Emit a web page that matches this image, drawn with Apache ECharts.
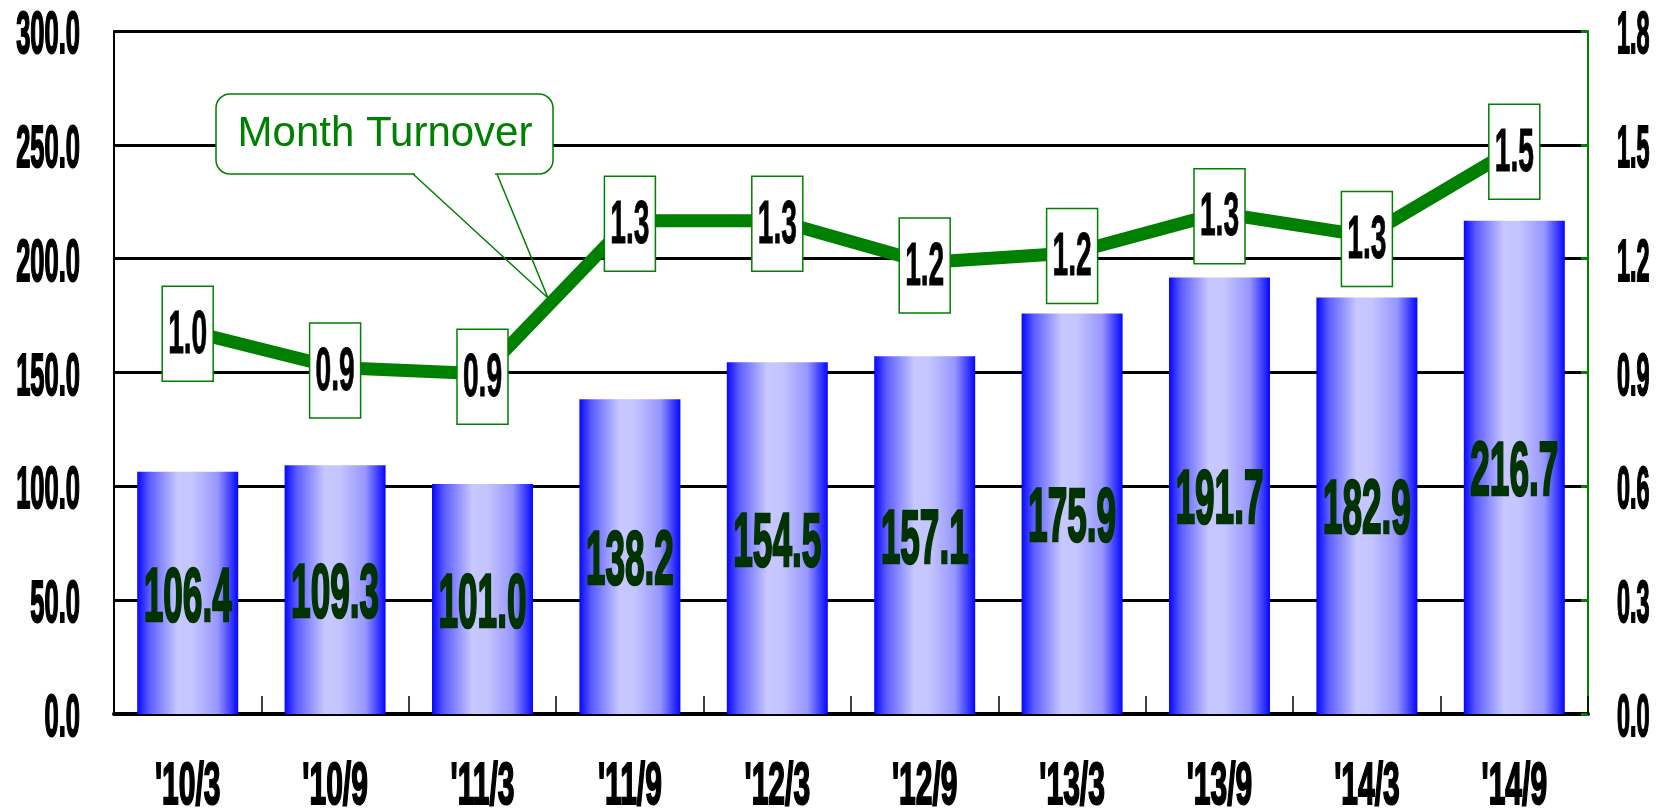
<!DOCTYPE html>
<html>
<head>
<meta charset="utf-8">
<title>Balance and Month Turnover</title>
<script src="https://cdn.jsdelivr.net/npm/echarts@6/dist/echarts.min.js"></script>
<style>
  html, body { margin: 0; padding: 0; background: #ffffff; }
  #chart { width: 1657px; height: 812px; }
</style>
</head>
<body>
<div id="chart"></div>
<script>
// Half-year periods
const categories = ["'10/3", "'10/9", "'11/3", "'11/9", "'12/3", "'12/9", "'13/3", "'13/9", "'14/3", "'14/9"];
// Balance (left axis)
const balance = [106.4, 109.3, 101.0, 138.2, 154.5, 157.1, 175.9, 191.7, 182.9, 216.7];
// Month turnover (right axis)
const turnover = [1.01, 0.913, 0.897, 1.30, 1.30, 1.19, 1.215, 1.32, 1.26, 1.49];
// Axis ticks
const leftTicks = [0, 50, 100, 150, 200, 250, 300];
const rightTicks = [0, 0.3, 0.6, 0.9, 1.2, 1.5, 1.8];

const BASE_FONT = "'Liberation Sans', Arial, Helvetica, sans-serif";
const GREEN = '#008000';

const chart = echarts.init(document.getElementById('chart'));

const barGradient = new echarts.graphic.LinearGradient(0, 0, 1, 0, [
  { offset: 0.00, color: '#0606ff' },
  { offset: 0.12, color: '#5c5cff' },
  { offset: 0.40, color: '#c8c8ff' },
  { offset: 0.55, color: '#c4c4ff' },
  { offset: 0.80, color: '#9696ff' },
  { offset: 1.00, color: '#0606ff' }
]);

// Tall, narrow heavy text: a bold face stretched vertically
function tallText(str, x, y, size, sx, sy, color, align, weight) {
  return {
    type: 'text',
    x: x,
    y: y,
    scaleX: sx,
    scaleY: sy,
    silent: true,
    style: {
      text: str,
      fill: color,
      stroke: color,
      lineWidth: weight,
      fontFamily: BASE_FONT,
      fontWeight: 'bold',
      fontSize: size,
      align: align || 'center',
      verticalAlign: 'middle'
    }
  };
}

// Value labels inside the bars
function renderBarLabel(params, api) {
  const idx = api.value(0);
  const v = api.value(1);
  const mid = api.coord([idx, v / 2]);
  return tallText(v.toFixed(1), mid[0], mid[1] + 6.5, 40, 0.88, 1.92, '#003300', 'center', 1.4);
}

// Boxed labels centred on the turnover points
function renderLineLabel(params, api) {
  const idx = api.value(0);
  const v = api.value(1);
  const p = api.coord([idx, v]);
  const w = 51, h = 95;
  const cy = p[1] + 3;
  return {
    type: 'group',
    silent: true,
    children: [
      {
        type: 'rect',
        shape: { x: p[0] - w / 2, y: cy - h / 2, width: w, height: h },
        style: { fill: '#ffffff', stroke: GREEN, lineWidth: 1.5 }
      },
      tallText(v.toFixed(1), p[0], cy + 2.5, 32, 0.88, 1.88, '#000000', 'center', 0.5)
    ]
  };
}

// Category labels under the x axis
function renderCategoryLabel(params, api) {
  const idx = api.value(0);
  const p = api.coord([idx, 0]);
  return tallText(categories[idx], p[0], p[1] + 73, 30, 1.0, 2.0, '#000000', 'center', 1.1);
}

// Tick labels of the left axis
function renderLeftTick(params, api) {
  const v = api.value(1);
  const p = api.coord([0, v]);
  return tallText(v.toFixed(1), params.coordSys.x - 34, p[1] + 6, 30, 0.85, 1.95, '#000000', 'right', 1.1);
}

// Tick labels of the right axis
function renderRightTick(params, api) {
  const v = api.value(1);
  const p = api.coord([0, v]);
  const cs = params.coordSys;
  return tallText(v.toFixed(1), cs.x + cs.width + 29, p[1] + 6, 30, 0.78, 1.95, '#000000', 'left', 1.1);
}

const option = {
  backgroundColor: '#ffffff',
  animation: false,
  grid: { left: 114, right: 69, top: 31, bottom: 98, containLabel: false, outerBoundsMode: 'none' },
  xAxis: {
    type: 'category',
    data: categories,
    boundaryGap: true,
    axisLine: { show: true, lineStyle: { color: '#000000', width: 4 } },
    axisTick: { show: true, inside: true, length: 18, lineStyle: { color: '#000000', width: 1.5 } },
    axisLabel: { show: false },
    splitLine: { show: false }
  },
  yAxis: [
    {
      type: 'value',
      min: leftTicks[0],
      max: leftTicks[leftTicks.length - 1],
      interval: leftTicks[1] - leftTicks[0],
      axisLine: { show: true, lineStyle: { color: '#000000', width: 2 } },
      axisTick: { show: false },
      axisLabel: { show: false },
      splitLine: { show: true, lineStyle: { color: '#000000', width: 3 } }
    },
    {
      type: 'value',
      min: rightTicks[0],
      max: rightTicks[rightTicks.length - 1],
      interval: 0.3,
      position: 'right',
      axisLine: { show: true, lineStyle: { color: GREEN, width: 2 } },
      axisTick: { show: true, inside: true, length: 7, lineStyle: { color: GREEN, width: 3 } },
      axisLabel: { show: false },
      splitLine: { show: false }
    }
  ],
  series: [
    {
      name: 'Balance',
      type: 'bar',
      data: balance,
      barWidth: 101,
      itemStyle: { color: barGradient },
      z: 2
    },
    {
      name: 'Month Turnover',
      type: 'line',
      yAxisIndex: 1,
      data: turnover,
      symbol: 'none',
      lineStyle: { color: GREEN, width: 13 },
      z: 3
    },
    {
      type: 'custom',
      yAxisIndex: 1,
      data: turnover.map((v, i) => [i, v]),
      encode: { x: 0, y: 1 },
      renderItem: renderLineLabel,
      z: 4
    },
    {
      type: 'custom',
      yAxisIndex: 0,
      data: balance.map((v, i) => [i, v]),
      encode: { x: 0, y: 1 },
      renderItem: renderBarLabel,
      z: 5
    },
    {
      type: 'custom',
      yAxisIndex: 0,
      data: categories.map((c, i) => [i, 0]),
      encode: { x: 0, y: 1 },
      renderItem: renderCategoryLabel,
      z: 5
    },
    {
      type: 'custom',
      yAxisIndex: 0,
      data: leftTicks.map(v => [0, v]),
      encode: { x: 0, y: 1 },
      renderItem: renderLeftTick,
      z: 5
    },
    {
      type: 'custom',
      yAxisIndex: 1,
      data: rightTicks.map(v => [0, v]),
      encode: { x: 0, y: 1 },
      renderItem: renderRightTick,
      z: 5
    }
  ],
  graphic: {
    elements: [
      {
        type: 'rect',
        z: 100,
        shape: { x: 216, y: 94, width: 337, height: 80, r: 14 },
        style: { fill: '#ffffff', stroke: GREEN, lineWidth: 1.5 }
      },
      {
        type: 'line',
        z: 101,
        shape: { x1: 415, y1: 174, x2: 495, y2: 174 },
        style: { stroke: '#ffffff', lineWidth: 3 }
      },
      {
        type: 'polyline',
        z: 102,
        shape: { points: [[413, 174], [548, 298], [497, 174]] },
        style: { fill: null, stroke: GREEN, lineWidth: 1.5 }
      },
      {
        type: 'text',
        z: 103,
        x: 385,
        y: 134,
        style: {
          text: 'Month Turnover',
          fill: GREEN,
          fontFamily: BASE_FONT,
          fontSize: 42,
          align: 'center',
          verticalAlign: 'middle'
        }
      }
    ]
  }
};

chart.setOption(option);
</script>
</body>
</html>
